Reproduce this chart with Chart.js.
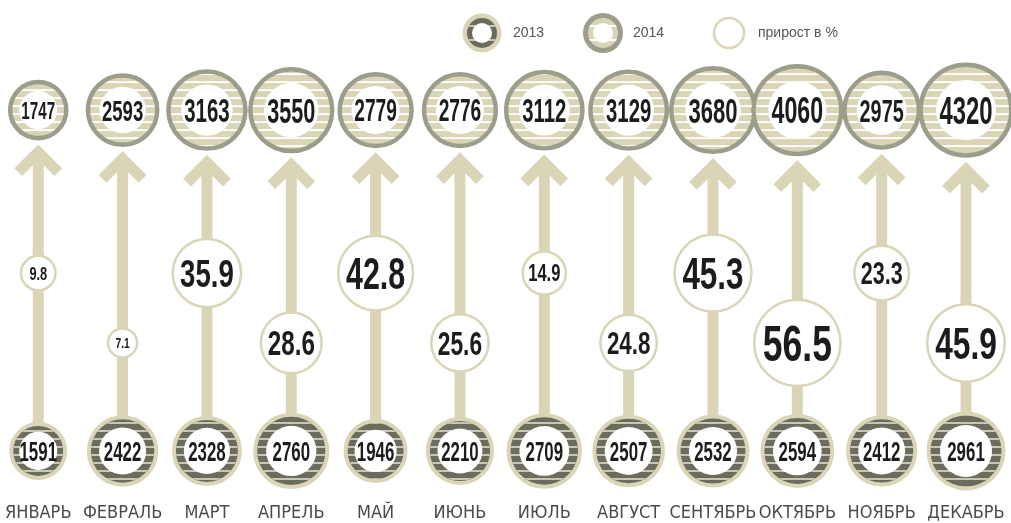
<!DOCTYPE html>
<html>
<head>
<meta charset="utf-8">
<script src="https://cdn.jsdelivr.net/npm/chart.js@4.4.1/dist/chart.umd.min.js"></script>
<style>
  html, body { margin: 0; padding: 0; background: #ffffff; }
  #wrap { width: 1011px; height: 523px; position: relative; }
</style>
</head>
<body>
<div id="wrap"><canvas id="c" width="1011" height="523"></canvas></div>
<script>
// ---- data ----
const months = ['ЯНВАРЬ','ФЕВРАЛЬ','МАРТ','АПРЕЛЬ','МАЙ','ИЮНЬ','ИЮЛЬ','АВГУСТ','СЕНТЯБРЬ','ОКТЯБРЬ','НОЯБРЬ','ДЕКАБРЬ'];
const values2013 = [1591, 2422, 2328, 2760, 1946, 2210, 2709, 2507, 2532, 2594, 2412, 2961];
const values2014 = [1747, 2593, 3163, 3550, 2779, 2776, 3112, 3129, 3680, 4060, 2975, 4320];
const growth = [9.8, 7.1, 35.9, 28.6, 42.8, 25.6, 14.9, 24.8, 45.3, 56.5, 23.3, 45.9];
const seriesLabels = ['2013', '2014', 'прирост в %'];

// ---- layout / style ----
const ROW_2013 = 0, ROW_2014 = 100, MID_HIGH = 52.2, MID_LOW = 31.7;
const BEIGE = '#d9d5b6', DARK = '#6c6c5e', GRAYRING = '#9d9d8c', STRIPE_DARK = '#c9c7b4';
const TEXT = '#1c1c1c';
const valueRadius = v => 0.725 * Math.sqrt(v);
const growthRadius = g => 5.9 * Math.sqrt(g);

function numText(ctx, text, x, y, cap, sx) {
  const fs = cap / 0.716;
  ctx.save();
  ctx.font = 'bold ' + fs + 'px "Liberation Sans", Arial, sans-serif';
  ctx.fillStyle = TEXT;
  ctx.textAlign = 'center';
  ctx.textBaseline = 'alphabetic';
  ctx.translate(x, y);
  ctx.scale(sx, 1);
  ctx.fillText(text, 0, cap / 2);
  ctx.restore();
}

function stripes(ctx, x, y, r, color, width, step) {
  ctx.save();
  ctx.beginPath();
  ctx.arc(x, y, r, 0, Math.PI * 2);
  ctx.clip();
  ctx.strokeStyle = color;
  ctx.lineWidth = width;
  for (let k = -8; k <= 8; k++) {
    const yy = y + k * step + step / 2;
    ctx.beginPath();
    ctx.moveTo(x - r - 2, yy);
    ctx.lineTo(x + r + 2, yy);
    ctx.stroke();
  }
  ctx.restore();
}

function disc(ctx, x, y, r, fill) {
  ctx.beginPath();
  ctx.arc(x, y, r, 0, Math.PI * 2);
  ctx.fillStyle = fill;
  ctx.fill();
}

const ringPlugin = {
  id: 'rings',
  beforeDatasetsDraw(chart) {
    const ctx = chart.ctx;
    const m13 = chart.getDatasetMeta(0).data;
    const m14 = chart.getDatasetMeta(1).data;
    ctx.save();
    for (let i = 0; i < months.length; i++) {
      const top = m14[i], bot = m13[i];
      const R14 = top.options.radius + top.options.borderWidth / 2;
      const R13 = bot.options.radius + bot.options.borderWidth / 2;
      const x = top.x;
      const tip = top.y + R14 + 4;
      const w = 11;
      const apex = tip + (w / 2) * Math.SQRT2;
      ctx.fillStyle = BEIGE;
      ctx.fillRect(x - w / 2, apex + 4, w, (bot.y - R13 + 3) - (apex + 4));
      ctx.strokeStyle = BEIGE;
      ctx.lineWidth = w;
      ctx.lineJoin = 'miter';
      ctx.lineCap = 'butt';
      ctx.beginPath();
      ctx.moveTo(x - 20, apex + 20);
      ctx.lineTo(x, apex);
      ctx.lineTo(x + 20, apex + 20);
      ctx.stroke();
    }
    ctx.restore();
  },
  afterDatasetsDraw(chart) {
    const ctx = chart.ctx;
    const m13 = chart.getDatasetMeta(0).data;
    const m14 = chart.getDatasetMeta(1).data;
    const mg = chart.getDatasetMeta(2).data;
    for (let i = 0; i < months.length; i++) {
      // 2013 (bottom)
      const b = m13[i];
      const Rb = b.options.radius + b.options.borderWidth / 2;
      stripes(ctx, b.x, b.y, Rb - b.options.borderWidth, STRIPE_DARK, 2, 8);
      const ib = Rb * 0.66;
      disc(ctx, b.x, b.y, ib, '#ffffff');
      numText(ctx, String(values2013[i]), b.x, b.y, 19.5, 0.62);
      // 2014 (top)
      const t = m14[i];
      const Rt = t.options.radius + t.options.borderWidth / 2;
      stripes(ctx, t.x, t.y, Rt - t.options.borderWidth, '#ffffff', 1.6, 8);
      const it = Rt * 0.63;
      disc(ctx, t.x, t.y, it, '#ffffff');
      numText(ctx, String(values2014[i]), t.x, t.y, it * 2 * 0.46, 0.62);
      // growth
      const g = mg[i];
      const rg = g.options.radius;
      numText(ctx, growth[i].toFixed(1), g.x, g.y, 0.9 * rg - 2.5, 0.7);
    }
    // legend
    const L = chart.data.datasets;
    ctx.save();
    let x = 482, y = 33;
    disc(ctx, x, y, 19.5, BEIGE);
    disc(ctx, x, y, 15, DARK);
    stripes(ctx, x, y, 15, STRIPE_DARK, 2, 14);
    disc(ctx, x, y, 10, '#ffffff');
    x = 603;
    disc(ctx, x, y, 20, GRAYRING);
    disc(ctx, x, y, 15, BEIGE);
    stripes(ctx, x, y, 15, '#ffffff', 2, 14);
    disc(ctx, x, y, 10, '#ffffff');
    x = 729;
    ctx.beginPath();
    ctx.arc(x, y, 15, 0, Math.PI * 2);
    ctx.fillStyle = '#ffffff';
    ctx.fill();
    ctx.strokeStyle = BEIGE;
    ctx.lineWidth = 2.5;
    ctx.stroke();
    ctx.fillStyle = '#555555';
    ctx.font = '14px "Liberation Sans", Arial, sans-serif';
    ctx.textAlign = 'left';
    ctx.textBaseline = 'middle';
    ctx.fillText(L[0].label, 513, y);
    ctx.fillText(L[1].label, 633, y);
    ctx.fillText(L[2].label, 758, y);
    ctx.restore();
  }
};

const data = {
  labels: months,
  datasets: [
    {
      label: seriesLabels[0],
      data: months.map((m, i) => ({ x: m, y: ROW_2013, r: valueRadius(values2013[i]) - 2 })),
      backgroundColor: DARK,
      borderColor: BEIGE,
      borderWidth: 4,
      clip: false
    },
    {
      label: seriesLabels[1],
      data: months.map((m, i) => ({ x: m, y: ROW_2014, r: valueRadius(values2014[i]) - 2.25 })),
      backgroundColor: BEIGE,
      borderColor: GRAYRING,
      borderWidth: 4.5,
      clip: false
    },
    {
      label: seriesLabels[2],
      data: months.map((m, i) => ({ x: m, y: i % 2 ? MID_LOW : MID_HIGH, r: growthRadius(growth[i]) - 1.2 })),
      backgroundColor: '#ffffff',
      borderColor: BEIGE,
      borderWidth: 2.5,
      clip: false
    }
  ]
};

new Chart(document.getElementById('c'), {
  type: 'bubble',
  data,
  plugins: [ringPlugin],
  options: {
    responsive: false,
    animation: false,
    events: [],
    layout: { autoPadding: false, padding: { left: 33, right: 45, top: 0, bottom: 0 } },
    plugins: { legend: { display: false }, tooltip: { enabled: false } },
    scales: {
      x: {
        type: 'category',
        labels: months,
        offset: false,
        grid: { display: false, drawTicks: false },
        border: { display: false },
        ticks: {
          autoSkip: false, maxRotation: 0, minRotation: 0, padding: 5,
          color: '#4a4a4a',
          font: { family: '"Liberation Sans Narrow", "DejaVu Sans Condensed", sans-serif', size: 18 }
        },
        afterFit(s) { s.height = 25; }
      },
      y: { type: 'linear', display: false, min: -13.8, max: 132.3 }
    }
  }
});
</script>
</body>
</html>
